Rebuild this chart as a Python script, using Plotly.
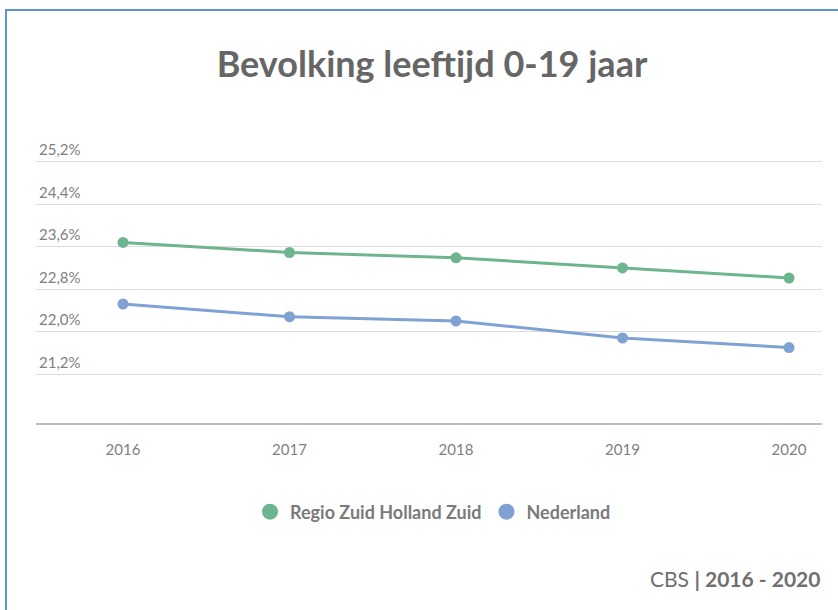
import plotly.graph_objects as go

years = [2016, 2017, 2018, 2019, 2020]
regio_zhz = [23.68, 23.49, 23.39, 23.20, 23.01]
nederland = [22.52, 22.28, 22.20, 21.88, 21.70]
y_ticks = [21.2, 22.0, 22.8, 23.6, 24.4, 25.2]
y_ticktext = ["21,2%", "22,0%", "22,8%", "23,6%", "24,4%", "25,2%"]
series_names = ["Regio Zuid Holland Zuid", "Nederland"]

W, H = 838, 610
ML, MR, MT, MB = 36, 16, 130, 187
PW, PH = W - ML - MR, H - MT - MB
PX_PER_PCT = 53.1
Y_TOP = 25.2 + (161.7 - MT) / PX_PER_PCT
Y_BOT = Y_TOP - PH / PX_PER_PCT

def px_x(px):
    return (px - ML) / PW

def px_y(py):
    return (H - MB - py) / PH

green = "#6DB58F"
blue = "#7FA2D3"
gray = "#7f7f7f"
colors = [green, blue]

fig = go.Figure()
for name, vals, c in zip(series_names, [regio_zhz, nederland], colors):
    fig.add_trace(go.Scatter(x=years, y=vals, name=name, mode="lines+markers", showlegend=False,
                             line=dict(color=c, width=3), marker=dict(size=11, color=c)))
for name, c in zip(series_names, colors):
    fig.add_trace(go.Scatter(x=[None], y=[None], name="<b>" + name + "</b>", mode="markers",
                             showlegend=True, marker=dict(size=16, color=c)))

fig.update_layout(
    width=W, height=H,
    margin=dict(l=ML, r=MR, t=MT, b=MB),
    paper_bgcolor="white", plot_bgcolor="white",
    separators=",.",
    font=dict(family="Lato, Open Sans, sans-serif", color=gray),
    title=dict(text="<b>Bevolking leeftijd 0-19 jaar</b>", x=432 / W, y=1 - 64 / H,
               xanchor="center", yanchor="middle",
               font=dict(size=36, color="#666666", family="Lato, Open Sans, sans-serif")),
    showlegend=True,
    legend=dict(orientation="h", x=px_x(433), y=px_y(512), xanchor="center", yanchor="middle",
                font=dict(size=18, color="#7a7a7a"), itemsizing="trace", traceorder="normal",
                itemwidth=30),
    xaxis=dict(range=[2016 - 87 / 166.5, 2020 + 33 / 166.5], tickvals=years, tickformat="d",
               showgrid=False, zeroline=False, showline=True, linecolor="#bdbdbd", linewidth=2,
               ticks="", ticklabelstandoff=12, tickfont=dict(size=15, color=gray)),
    yaxis=dict(range=[Y_BOT, Y_TOP], tickvals=y_ticks, ticktext=y_ticktext,
               showgrid=True, gridcolor="#dddddd", gridwidth=1, zeroline=False, showline=False,
               ticklabelposition="inside top", ticklabelshift=-1, tickfont=dict(size=15, color=gray)),
    annotations=[dict(text="CBS <b>| 2016 - 2020</b>", x=1.0, y=px_y(578), xref="paper", yref="paper",
                      xanchor="right", yanchor="middle", showarrow=False,
                      font=dict(size=21, color="#6f6f6f"))],
    shapes=[dict(type="rect", xref="paper", yref="paper", x0=px_x(6), y0=px_y(H + 50),
                 x1=px_x(W + 50), y1=px_y(10), line=dict(color="#5B95CC", width=2),
                 fillcolor="rgba(0,0,0,0)", layer="below")],
)

fig.write_html("out.html")
